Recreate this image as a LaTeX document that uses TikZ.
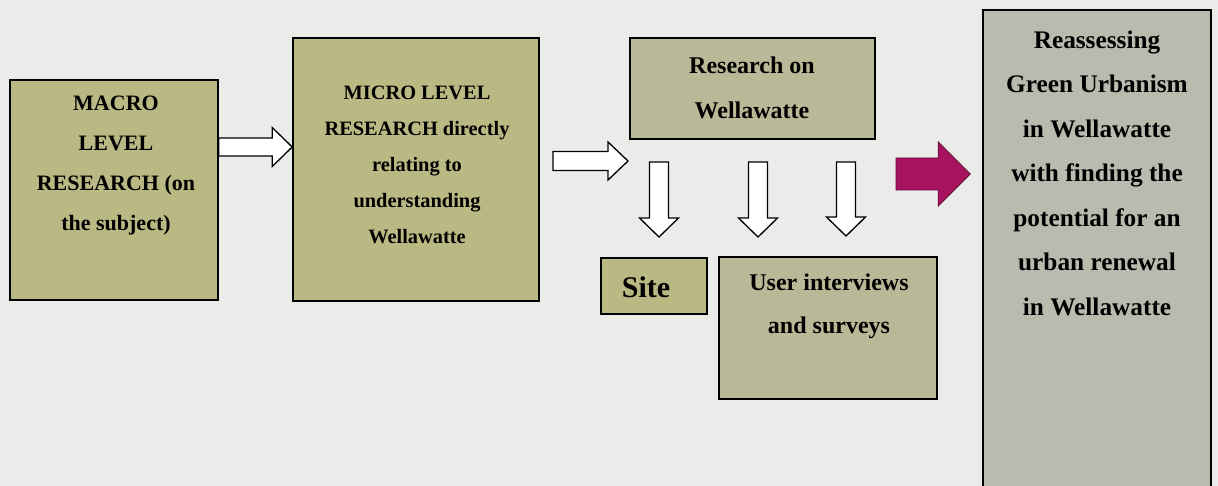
\documentclass[tikz,border=0pt]{standalone}
\usepackage{fontspec}
\setmainfont{Liberation Serif}
\usetikzlibrary{calc}

\definecolor{pagebg}{HTML}{EBEBEA}
\definecolor{olivebox}{HTML}{BAB984}
\definecolor{greyolive}{HTML}{B9B897}
\definecolor{sidebox}{HTML}{B8BBAE}
\definecolor{magentaarrow}{HTML}{A8135F}
\definecolor{magentaedge}{HTML}{5E0A33}

\tikzset{
  panel/.style={draw=black, line width=1.6pt, inner sep=0pt},
  caption/.style 2 args={align=center, font=\bfseries\fontsize{#1}{#2}\selectfont},
  blockarrow/.style={draw=black, line width=1.3pt, fill=white, line join=miter},
}

% horizontal block arrow: tail point, tip point, shaft half-width, head half-width, head length
\newcommand\harrowshape[6][blockarrow]{%
  \draw[#1] ($(#2)+(0,-#4)$) -- ($(#3)+(-#6,-#4)$) -- ($(#3)+(-#6,-#5)$) -- (#3)
    -- ($(#3)+(-#6,#5)$) -- ($(#3)+(-#6,#4)$) -- ($(#2)+(0,#4)$) -- cycle;}
% vertical (downward) block arrow
\newcommand\varrowshape[6][blockarrow]{%
  \draw[#1] ($(#2)+(-#4,0)$) -- ($(#3)+(-#4,-#6)$) -- ($(#3)+(-#5,-#6)$) -- (#3)
    -- ($(#3)+(#5,-#6)$) -- ($(#3)+(#4,-#6)$) -- ($(#2)+(#4,0)$) -- cycle;}

\begin{document}
\begin{tikzpicture}[x=1pt,y=-1pt]
  \clip (0,0) rectangle (1218,486);
  \fill[pagebg] (0,0) rectangle (1218,486);

  % boxes
  \node[panel, fill=olivebox, minimum width=208, minimum height=220] (macro) at (114,190) {};
  \node[panel, fill=olivebox, minimum width=246, minimum height=263] (micro) at (416,169.5) {};
  \node[panel, fill=greyolive, minimum width=245, minimum height=101] (onwell) at (752.5,88.5) {};
  \node[panel, fill=olivebox, minimum width=106, minimum height=56] (site) at (654,286) {};
  \node[panel, fill=greyolive, minimum width=218, minimum height=142] (users) at (828,328) {};
  \node[panel, fill=sidebox, minimum width=228, minimum height=500] (result) at (1097,260) {};

  % texts
  \node[caption={22}{40}] (tmacro) at (116,166)
    {MACRO\\LEVEL\\RESEARCH (on\\the subject)};
  \node[caption={20.4}{36}] (tmicro) at (417,165)
    {MICRO LEVEL\\RESEARCH directly\\relating to\\understanding\\Wellawatte};
  \node[caption={24}{45}] (tonwell) at (752,88)
    {Research on\\Wellawatte};
  \node[caption={30}{30}] (tsite) at (646,287) {Site};
  \node[caption={24}{43}] (tusers) at (829,306)
    {User interviews\\and surveys};
  \node[caption={25.3}{44.5}] (tresult) at (1097,173)
    {Reassessing\\Green Urbanism\\in Wellawatte\\with finding the\\potential for an\\urban renewal\\in Wellawatte};

  % arrow end points
  \coordinate (a1s) at (macro.east |- 0,147);
  \coordinate (a1e) at (micro.west |- 0,147);
  \coordinate (a2s) at (553,161);
  \coordinate (a2e) at (628,161);
  \coordinate (dAs) at (659,162);
  \coordinate (dAe) at (659,237);
  \coordinate (dBs) at (758,162);
  \coordinate (dBe) at (758,237);
  \coordinate (dCs) at (846,162);
  \coordinate (dCe) at (846,236);
  \coordinate (mgs) at (896,174);
  \coordinate (mge) at ([xshift=-12pt]result.west |- 0,174);

  % block arrows
  \harrowshape{a1s}{a1e}{9}{19.5}{20}
  \harrowshape{a2s}{a2e}{9.5}{19}{20}
  \varrowshape{dAs}{dAe}{9.5}{19.5}{19}
  \varrowshape{dBs}{dBe}{9.5}{19.5}{19}
  \varrowshape{dCs}{dCe}{9.5}{19.5}{19}
  \harrowshape[draw=magentaedge, line width=0.8pt, fill=magentaarrow]{mgs}{mge}{16}{32}{32}
\end{tikzpicture}
\end{document}
